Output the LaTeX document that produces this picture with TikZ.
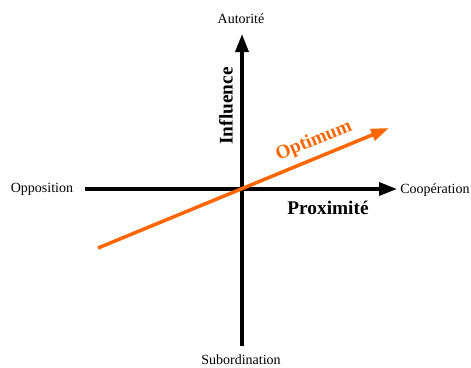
\documentclass[tikz,border=0pt]{standalone}
\usepackage{fontspec}
\setmainfont{Liberation Serif}
\usetikzlibrary{arrows.meta}
\definecolor{optorange}{RGB}{255,102,0}
\tikzset{
  axis/.style={line width=3.5pt,-{Triangle[length=18pt,width=13pt]}},
  pole/.style={font=\fontsize{14}{16}\selectfont},
  axlabel/.style={font=\fontsize{19.3}{22}\selectfont\bfseries},
}
\begin{document}
\begin{tikzpicture}[x=1pt,y=-1pt]
\useasboundingbox (0,0) rectangle (471,367);
% axes
\coordinate (W) at (85,189);
\coordinate (E) at (397,189);
\coordinate (S) at (242,346);
\coordinate (N) at (242,34);
\draw[axis] (W)--(E);
\draw[axis] (S)--(N);

% poles
\node[pole] (aut) at (241,19) {Autorité};
\node[pole] (sub) at (241,360) {Subordination};
\node[pole] (opp) at (42,189) {Opposition};
\node[pole] (coop) at (435,190) {Coopération};

% axis names
\node[axlabel,rotate=90] (infl) at (226,106) {Influence};
\node[axlabel] (prox) at (328,208) {Proximité};

% optimum
\coordinate (A) at (98,248);
\coordinate (B) at (389,128);
\draw[optorange,line width=3.5pt,-{Triangle[length=18pt,width=12pt]}] (A)--(B);
\node[axlabel,text=optorange,rotate=22.4] (opt) at (314,141) {Optimum};
\end{tikzpicture}
\end{document}
